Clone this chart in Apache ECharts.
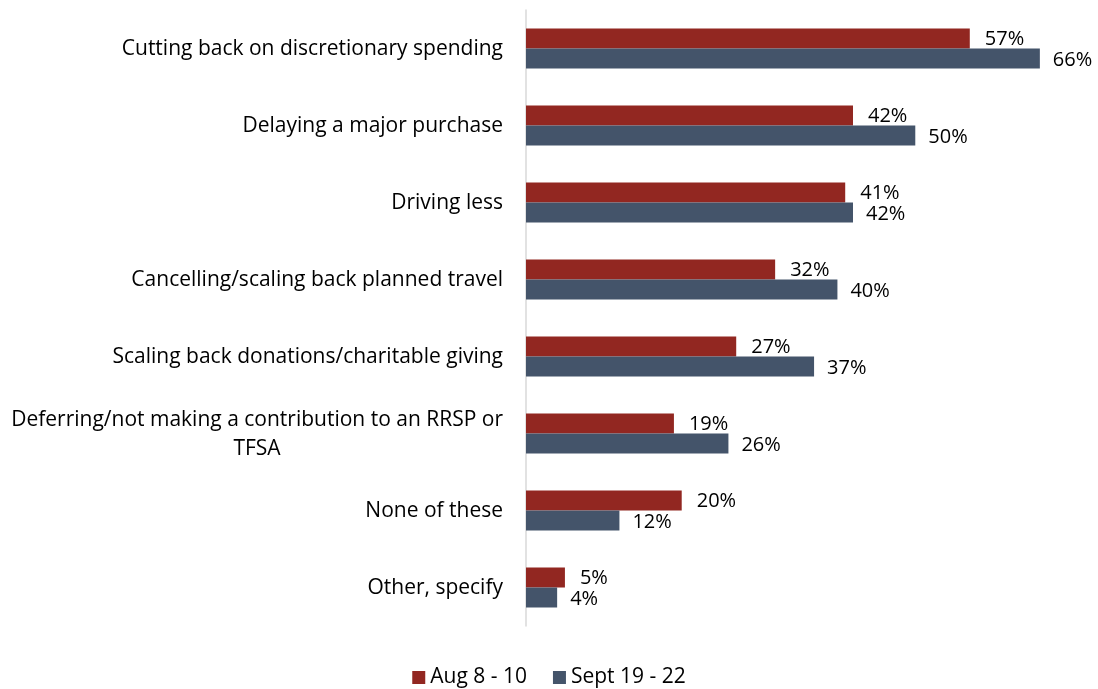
<!DOCTYPE html>
<html>
<head>
<meta charset="utf-8">
<script src="https://cdn.jsdelivr.net/npm/echarts@6/dist/echarts.min.js"></script>
<style>
html,body{margin:0;padding:0;background:#fff;}
#chart{width:1098px;height:689px;}
</style>
</head>
<body>
<div id="chart"></div>
<script>
const categories = [
  "Cutting back on discretionary spending",
  "Delaying a major purchase",
  "Driving less",
  "Cancelling/scaling back planned travel",
  "Scaling back donations/charitable giving",
  "Deferring/not making a contribution to an RRSP or TFSA",
  "None of these",
  "Other, specify"
];
const seriesNames = ["Aug 8 - 10", "Sept 19 - 22"];
const augValues = [57, 42, 41, 32, 27, 19, 20, 5];
const septValues = [66, 50, 42, 40, 37, 26, 12, 4];

const FONT = 'Open Sans';
const FS = 21;      // category labels
const FSV = 20;     // value labels
const FSL = 21;     // legend
function measure(t) {
  const c = document.createElement('canvas').getContext('2d');
  c.font = FS + 'px "' + FONT + '"';
  return c.measureText(t).width;
}
const chart = echarts.init(document.getElementById('chart'), null, {renderer: 'canvas'});
const line1 = 'Deferring/not making a contribution to an RRSP or';
const w1 = Math.ceil(measure(line1));
chart.setOption({
  animation: false,
  textStyle: {fontFamily: FONT},
  grid: {left: 526, right: 27, top: 10, bottom: 63, containLabel: false},
  legend: {
    top: 662,
    left: 'center',
    itemWidth: 13,
    itemHeight: 13,
    itemGap: 26,
    icon: 'rect',
    textStyle: {fontFamily: FONT, fontSize: FSL, color: '#000'},
    data: seriesNames
  },
  xAxis: {type: 'value', min: 0, max: 70, show: false},
  yAxis: {
    type: 'category',
    inverse: true,
    data: categories,
    axisLine: {show: true, lineStyle: {color: '#d9d9d9', width: 1.5}},
    axisTick: {show: false},
    axisLabel: {
      margin: 23,
      fontFamily: FONT,
      fontSize: FS,
      color: '#000',
      padding: [2, 0, 0, 0],
      formatter: function (v) {
        if (v.indexOf('RRSP or TFSA') >= 0) {
          return '{a|' + v.replace(' TFSA', '') + '}\n{c|TFSA}';
        }
        return v;
      },
      rich: {
        a: {fontFamily: FONT, fontSize: FS, color: '#000', lineHeight: 29},
        c: {fontFamily: FONT, fontSize: FS, color: '#000', lineHeight: 29, width: w1, align: 'center'}
      }
    }
  },
  series: [
    {
      name: seriesNames[0], type: 'bar', data: augValues,
      barWidth: 20, barGap: '0%',
      itemStyle: {color: '#922721'},
      label: {show: true, position: 'right', distance: 15, offset: [0, 1],
        formatter: '{c}%', fontFamily: FONT, fontSize: FSV, color: '#000'}
    },
    {
      name: seriesNames[1], type: 'bar', data: septValues,
      barWidth: 20, barGap: '0%',
      itemStyle: {color: '#44546a'},
      label: {show: true, position: 'right', distance: 13, offset: [0, 2],
        formatter: '{c}%', fontFamily: FONT, fontSize: FSV, color: '#000'}
    }
  ]
});
</script>
</body>
</html>
